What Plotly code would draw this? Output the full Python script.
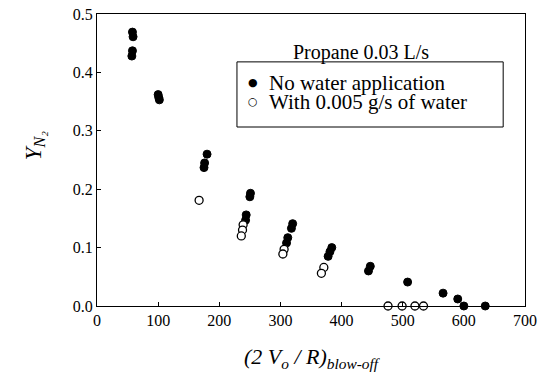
import plotly.graph_objects as go

# No water application (filled)
dry_x = [58, 59, 58, 57, 100, 101, 102, 180, 176, 175, 251, 250, 244, 243,
         320, 318, 312, 310, 384, 381, 378, 447, 444, 508, 566, 590, 600, 635]
dry_y = [0.469, 0.461, 0.437, 0.428, 0.362, 0.357, 0.353, 0.260, 0.245, 0.237,
         0.193, 0.187, 0.156, 0.147, 0.141, 0.133, 0.117, 0.108, 0.100, 0.093,
         0.085, 0.068, 0.060, 0.041, 0.022, 0.012, 0.0, 0.0]

# With 0.005 g/s of water (open)
wet_x = [167, 239, 238, 236, 306, 304, 371, 367, 476, 499, 520, 534]
wet_y = [0.181, 0.139, 0.130, 0.120, 0.097, 0.089, 0.066, 0.056, 0.0, 0.0, 0.0, 0.0]

x_ticks = [0, 100, 200, 300, 400, 500, 600, 700]
y_ticks = [0.0, 0.1, 0.2, 0.3, 0.4, 0.5]

series_names = ["No water application", "With 0.005 g/s of water"]

SERIF = "Liberation Serif, Times New Roman, serif"

fig = go.Figure()
fig.add_trace(go.Scatter(
    x=dry_x, y=dry_y, mode="markers", name=series_names[0],
    marker=dict(size=8, color="black", line=dict(color="black", width=1)),
    cliponaxis=False, showlegend=False))
fig.add_trace(go.Scatter(
    x=wet_x, y=wet_y, mode="markers", name=series_names[1],
    marker=dict(size=8, color="white", line=dict(color="black", width=1.3)),
    cliponaxis=False, showlegend=False))

axis_common = dict(showline=True, linecolor="black", linewidth=1, mirror=True,
                   showgrid=False, zeroline=False, ticks="inside", ticklen=4,
                   tickcolor="black", automargin=False,
                   tickfont=dict(family=SERIF, size=16, color="black"))

fig.update_xaxes(range=[0, 700], tickvals=x_ticks,
                 ticktext=[str(v) for v in x_ticks],
                 title=dict(text="<i>(2 V<sub>o</sub> / R)<sub>blow-off</sub></i>",
                            font=dict(family=SERIF, size=22, color="black"),
                            standoff=20),
                 **axis_common)
fig.update_yaxes(range=[0, 0.5], tickvals=y_ticks,
                 ticktext=[f"{v:.1f}" for v in y_ticks],
                 **axis_common)

# Y-axis title placed like the reference
fig.add_annotation(x=-0.145, y=0.55, xref="paper", yref="paper",
                   text="<i>Y<sub>N₂</sub></i>", showarrow=False, textangle=-90,
                   xanchor="center", yanchor="middle",
                   font=dict(family=SERIF, size=23, color="black"))

# Title text inside the plot
fig.add_annotation(x=0.617, y=0.915, xref="paper", yref="paper",
                   text="Propane 0.03 L/s", showarrow=False,
                   font=dict(family=SERIF, size=20, color="black"))

# Manual legend box
fig.add_shape(type="rect", xref="paper", yref="paper",
              x0=0.327, x1=0.949, y0=0.613, y1=0.836,
              line=dict(color="black", width=1), fillcolor="white", layer="below")
legend_rows = [(0.764, "●", series_names[0]), (0.699, "○", series_names[1])]
for yy, sym, label in legend_rows:
    fig.add_annotation(x=0.364, y=yy, xref="paper", yref="paper", text=sym,
                       showarrow=False, xanchor="center", yanchor="middle",
                       font=dict(family="DejaVu Sans", size=11, color="black"))
    fig.add_annotation(x=0.397, y=yy, xref="paper", yref="paper", text=label,
                       showarrow=False, xanchor="left", yanchor="middle",
                       font=dict(family=SERIF, size=21, color="black"))

fig.update_layout(
    width=541, height=378,
    margin=dict(l=97, r=16, t=14, b=72),
    paper_bgcolor="white", plot_bgcolor="white",
    font=dict(family=SERIF, color="black"),
    showlegend=False,
)

fig.write_html("out.html")
